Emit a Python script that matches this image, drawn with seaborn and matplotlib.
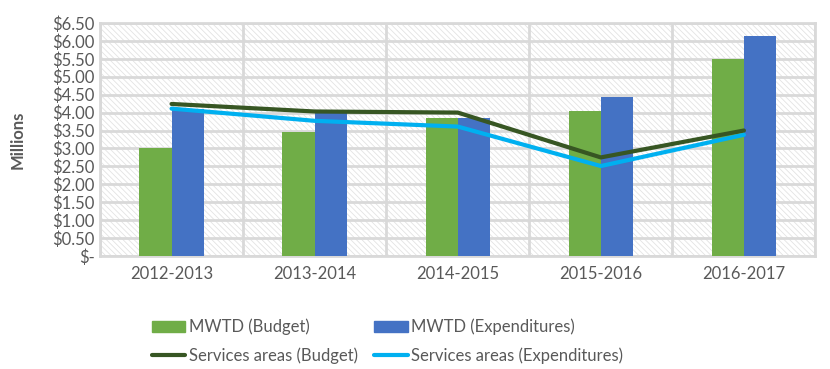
import pandas as pd
import numpy as np
import matplotlib
matplotlib.use('Agg')
import matplotlib.pyplot as plt
import seaborn as sns
from matplotlib.ticker import FuncFormatter, MultipleLocator
from matplotlib.patches import Patch
from matplotlib.lines import Line2D

# Values in millions of dollars
years = ['2012-2013', '2013-2014', '2014-2015', '2015-2016', '2016-2017']
mwtd_budget = [3.01, 3.46, 3.85, 4.04, 5.49]
mwtd_expend = [4.10, 3.99, 3.85, 4.43, 6.14]
services_budget = [4.24, 4.03, 4.00, 2.75, 3.50]
services_expend = [4.11, 3.77, 3.61, 2.51, 3.38]

bar_labels = ['MWTD (Budget)', 'MWTD (Expenditures)']
line_labels = ['Services areas (Budget)', 'Services areas (Expenditures)']
bar_colors = ['#70ad47', '#4472c4']
line_colors = ['#375623', '#00b0f0']

bars = pd.DataFrame({
    'Year': years * 2,
    'Series': [bar_labels[0]] * len(years) + [bar_labels[1]] * len(years),
    'Value': mwtd_budget + mwtd_expend,
})

sns.set_style('white')
plt.rcParams['font.family'] = ['Lato', 'DejaVu Sans']
plt.rcParams['hatch.linewidth'] = 0.6

fig = plt.figure(figsize=(8.3, 3.69), dpi=100)
ax = fig.add_axes([0.1205, 0.306, 0.862, 0.632])

# hatched plot background
ax.patch.set_facecolor('white')
ax.patch.set_hatch('\\\\\\\\\\\\')
ax.patch.set_edgecolor('#e3e3e3')

sns.barplot(data=bars, x='Year', y='Value', hue='Series', order=years,
            palette=bar_colors, width=0.45, gap=0, saturation=1,
            linewidth=0, ax=ax, legend=False, zorder=3)

pos = np.arange(len(years))
sns.lineplot(x=pos, y=services_budget, color=line_colors[0], linewidth=3,
             ax=ax, zorder=4)
sns.lineplot(x=pos, y=services_expend, color=line_colors[1], linewidth=3,
             ax=ax, zorder=4)

ax.set_xlim(-0.5, len(years) - 0.5)
ax.set_ylim(0, 6.5)
ax.yaxis.set_major_locator(MultipleLocator(0.5))
ax.yaxis.set_major_formatter(FuncFormatter(lambda v, p: '$-' if abs(v) < 1e-9 else f'${v:.2f}'))
ax.set_xticks(pos)
ax.set_xticklabels(years)
ax.set_xticks(np.arange(len(years) + 1) - 0.5, minor=True)

ax.grid(True, axis='y', which='major', color='#d9d9d9', linewidth=2, zorder=1)
ax.grid(True, axis='x', which='minor', color='#d9d9d9', linewidth=2, zorder=1)
ax.set_axisbelow(True)
for s in ax.spines.values():
    s.set_color('#d9d9d9')
    s.set_linewidth(2)

ax.tick_params(axis='both', which='both', length=0, labelsize=12, colors='#595959')
ax.tick_params(axis='x', pad=7)
ax.tick_params(axis='y', pad=4)
ax.set_xlabel('')
ax.set_ylabel('Millions', fontsize=12, fontweight='bold', color='#595959')
ax.yaxis.set_label_coords(-0.104, 0.5)

# legend fills row by row: bars on top, lines below
handles = [Patch(color=bar_colors[0], label=bar_labels[0]),
           Line2D([], [], color=line_colors[0], lw=3, label=line_labels[0]),
           Patch(color=bar_colors[1], label=bar_labels[1]),
           Line2D([], [], color=line_colors[1], lw=3, label=line_labels[1])]
fig.legend(handles=handles, ncol=2, loc='lower left', bbox_to_anchor=(0.165, -0.028),
           frameon=False, fontsize=12, labelcolor='#595959', handlelength=2.0,
           handletextpad=0.2, columnspacing=1.0, labelspacing=0.75)

fig.savefig('out.png', dpi=100)
